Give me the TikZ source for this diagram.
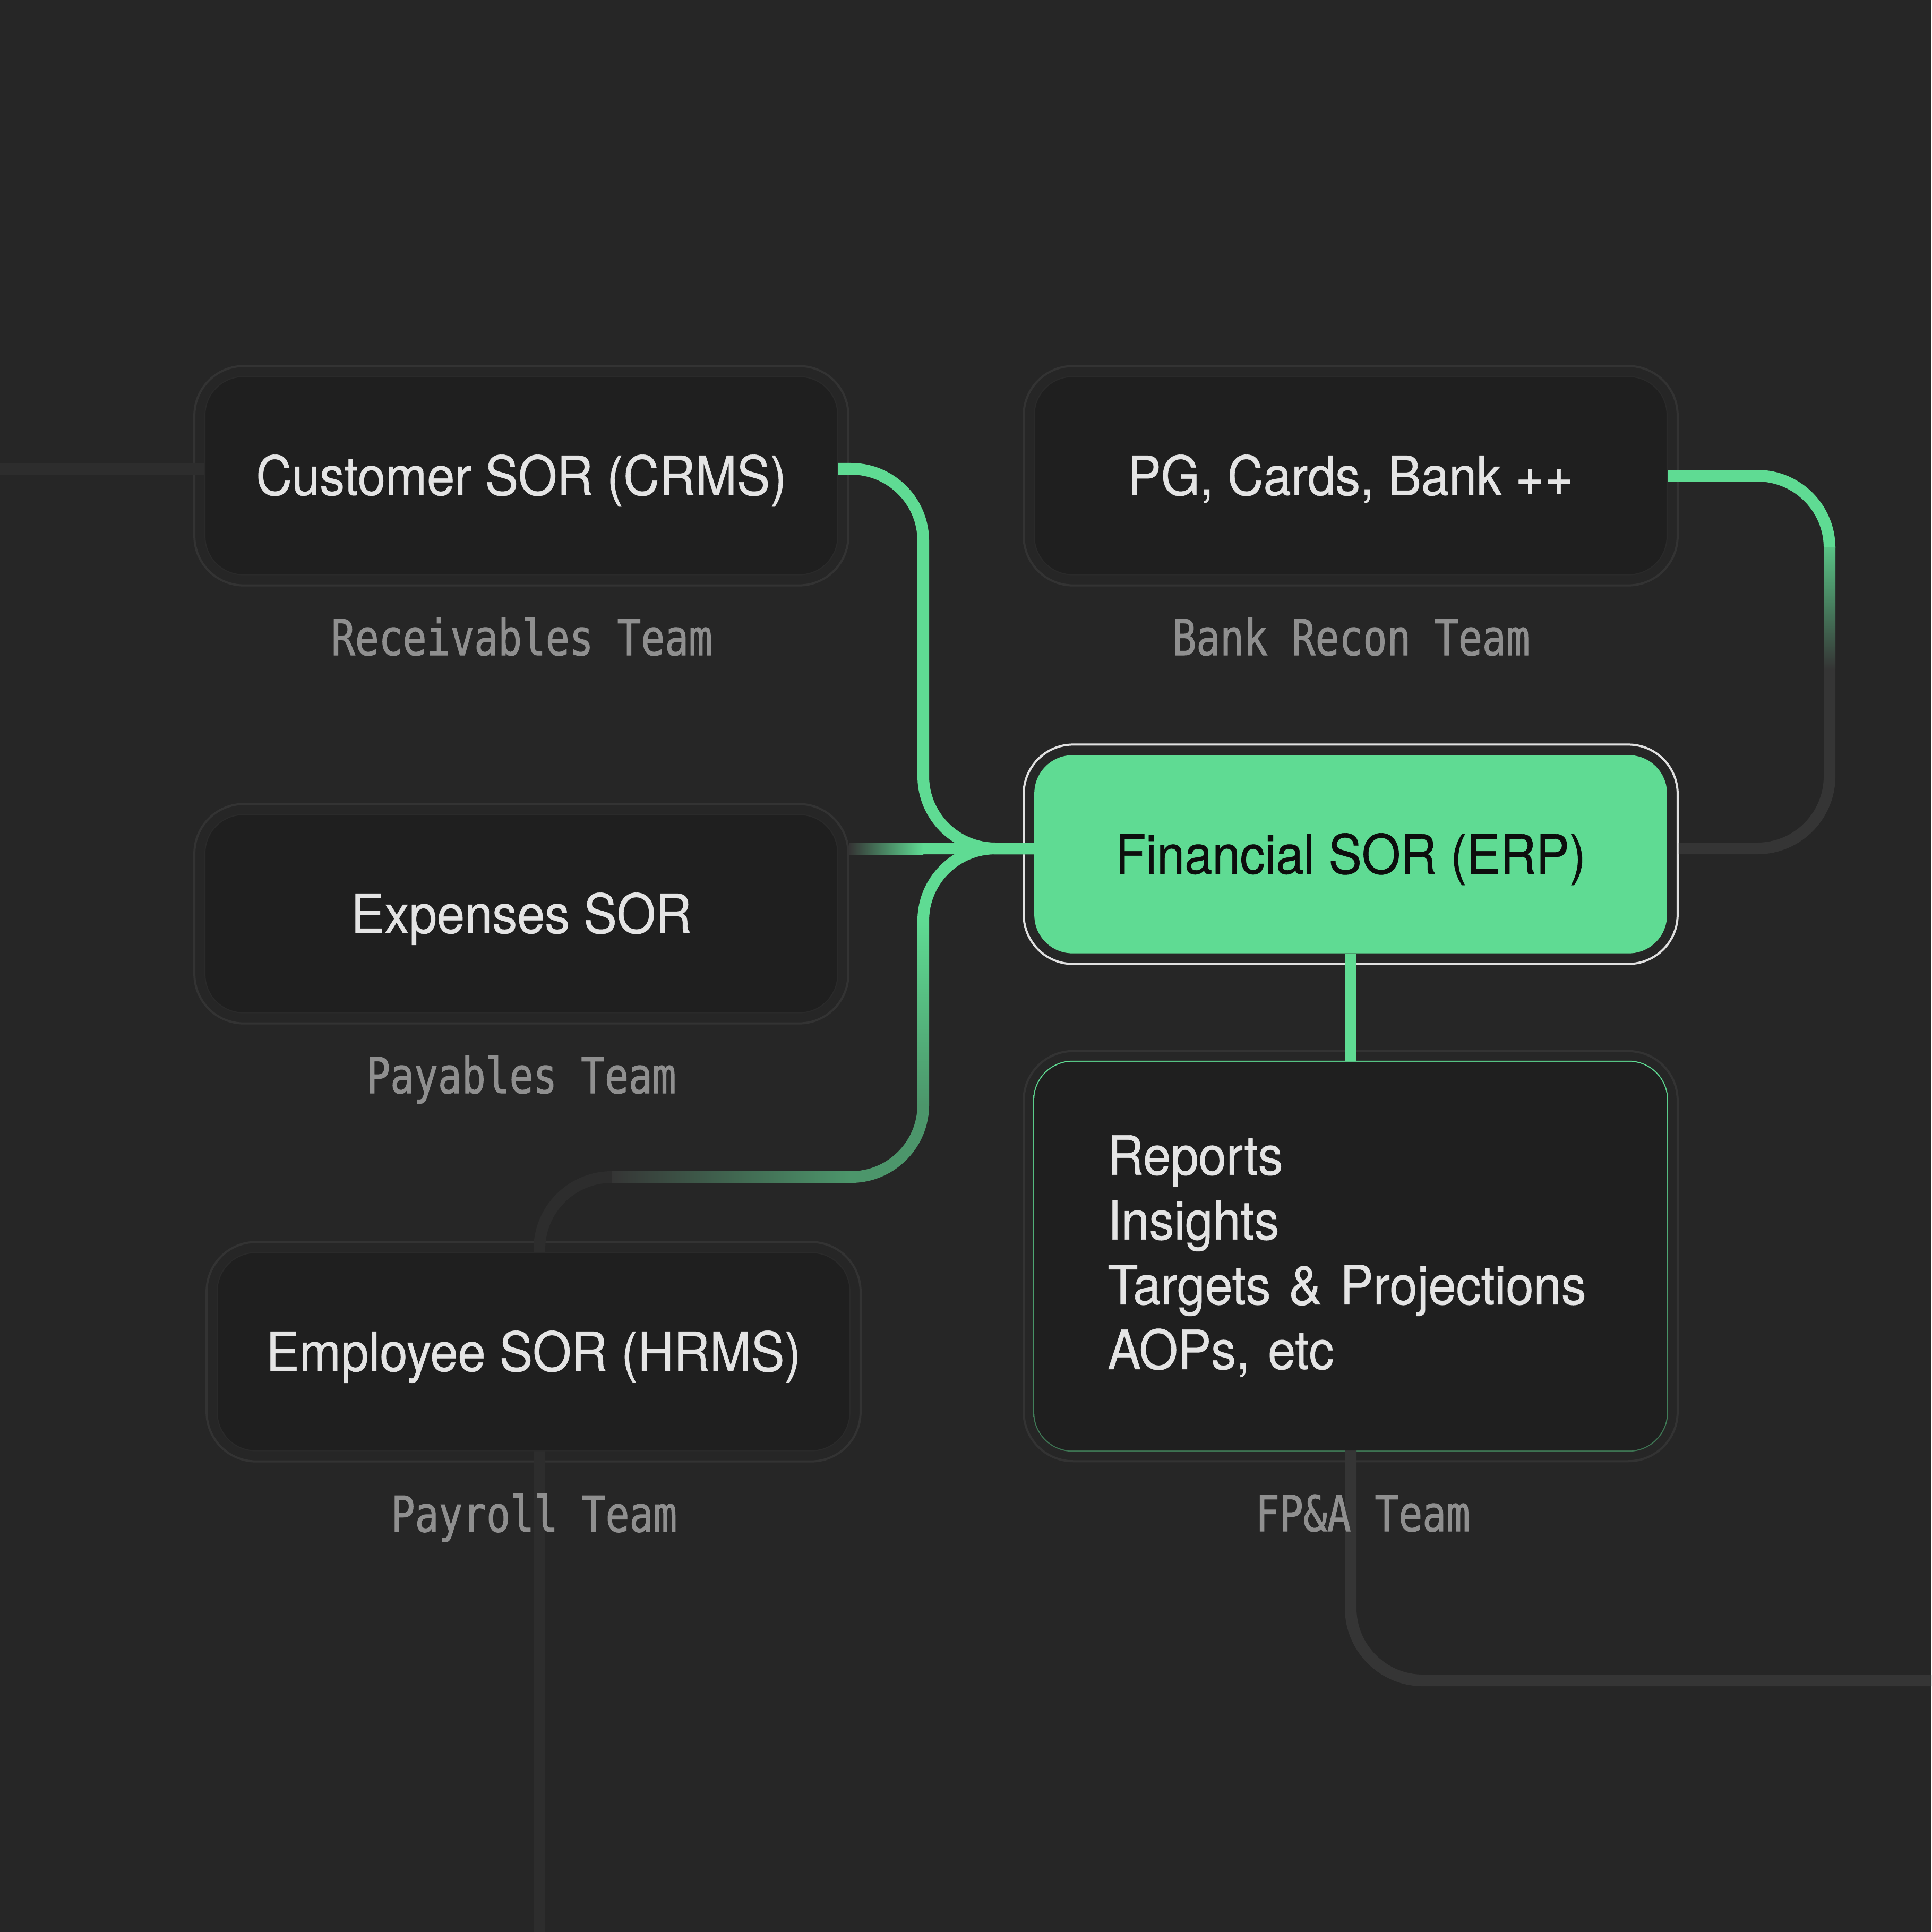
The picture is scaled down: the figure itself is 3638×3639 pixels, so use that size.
\documentclass[tikz,border=0pt]{standalone}
\usepackage{fontspec}
\setmainfont[FakeStretch=0.92, FakeBold=0.6]{TeX Gyre Heros}
\newfontfamily\teamfont[FakeStretch=0.8, FakeBold=1.2]{DejaVu Sans Mono}
\usepackage{tikz}
\usetikzlibrary{backgrounds,fit}

\definecolor{bgcol}{HTML}{262626}
\definecolor{boxcol}{HTML}{1F1F1F}
\definecolor{boxedge}{HTML}{2A2A2A}
\definecolor{framecol}{HTML}{333333}
\definecolor{wirecol}{HTML}{353535}
\definecolor{dimwire}{HTML}{2D2D2D}
\definecolor{erpgreen}{HTML}{5FDB93}
\definecolor{erptext}{HTML}{0D0D0D}
\definecolor{erpedge}{HTML}{E0E0E0}
\definecolor{textcol}{HTML}{E4E4E4}
\definecolor{teamcol}{HTML}{8F8F8F}
\definecolor{repedge}{HTML}{3D7352}
\definecolor{paygreen}{HTML}{4C966B}
\colorlet{pggreen}{erpgreen!85!wirecol}

\tikzset{
    sor/.style={rounded corners=0.72cm, fill=boxcol, draw=boxedge, line width=0.02cm,
        minimum width=11.91cm, minimum height=3.73cm, inner sep=0pt, outer sep=0pt,
        text=textcol, font=\fontsize{29}{35}\selectfont, text height=0.73cm, text depth=0pt},
    erp/.style={sor, fill=erpgreen, draw=none, text=erptext},
    outcome/.style={rounded corners=0.72cm, fill=boxcol, minimum width=11.91cm, minimum height=7.32cm,
        inner xsep=1.38cm, inner ysep=0pt, outer sep=0pt, text width=9.15cm, align=left,
        text=textcol, font=\fontsize{29}{34.7}\selectfont},
    sorframe/.style={rounded corners=0.93cm, draw=framecol, line width=0.04cm, inner sep=0.2cm},
    erpframe/.style={sorframe, draw=erpedge},
    team/.style={anchor=base, text=teamcol, font=\teamfont\fontsize{26.5}{30}\selectfont},
    wire/.style={line width=0.22cm},
    elbow/.style={wire, rounded corners=1.36cm}
}

\begin{document}
\begin{tikzpicture}[x=0.01cm, y=-0.01cm]
            \useasboundingbox (0,0) rectangle (3638,3639);

            \node[sor] (crm) at (982,896) {Customer SOR (CRMS)};
            \node[sor] (pg) at (2544,896) {PG, Cards, Bank ++};
            \node[sor] (exp) at (982,1721) {Expenses SOR};
            \node[erp] (fin) at (2544,1609) {Financial SOR (ERP)};
            \node[sor] (emp) at (1005,2546) {Employee SOR (HRMS)};
            \node[outcome] (rep) at (2544,2366) {Reports\\Insights\\Targets \& Projections\\AOPs, etc};

            \node[team] (crm-team) at (983,1234) {Receivables Team};
            \node[team] (pg-team) at (2545,1234) {Bank Recon Team};
            \node[team] (exp-team) at (982,2059) {Payables Team};
            \node[team] (emp-team) at (1006,2885) {Payroll Team};
            \node[team] (rep-team) at (2567,2884) {FP\&A Team};

            \begin{pgfonlayer}{background}
            \fill[bgcol] (0,0) rectangle (3638,3639);

            \node[sorframe, fit=(crm)] (crm-f) {};
            \node[sorframe, fit=(pg)] (pg-f) {};
            \node[sorframe, fit=(exp)] (exp-f) {};
            \node[sorframe, fit=(emp)] (emp-f) {};
            \node[sorframe, fit=(rep)] (rep-f) {};
            \node[erpframe, fit=(fin)] (fin-f) {};
            \shade[top color=erpgreen, bottom color=repedge, rounded corners=0.74cm]
                ([shift={(-0.02cm,0.02cm)}]rep.north west) rectangle ([shift={(0.02cm,-0.02cm)}]rep.south east);

            \coordinate (crm-in) at (0,883);
            \coordinate (hub) at (1739,1598);
            \coordinate (exp-out) at (1600,1598);
            \coordinate (pay-turn) at (1739,2217);
            \coordinate (pay-foot) at (1016,3639);
            \coordinate (pg-turn) at (3446,1598);
            \coordinate (fpa-out) at (3638,3165);

            \draw[wire, dimwire] (crm-in) -- ([yshift=0.13cm]crm.west);

            \draw[elbow, dimwire] ([yshift=0.11cm]fin.west) -| (pay-turn) -| (pay-foot);
            \draw[elbow, erpgreen] ([yshift=0.11cm]fin.west) -| (1739,1734);
            \shade[top color=erpgreen, bottom color=paygreen] (1728,1734) rectangle (1750,2081);
            \draw[elbow, paygreen] (1739,2081) |- (1603,2217);
            \shade[left color=wirecol, right color=paygreen] (1152,2206) rectangle (1603,2228);

            \shade[left color=wirecol, right color=erpgreen] ([yshift=0.11cm]exp-out) rectangle ([yshift=-0.11cm]hub);
            \draw[wire, erpgreen] (hub) -- ([yshift=0.11cm]fin.west);
            \draw[elbow, erpgreen] ([yshift=0.13cm]crm.east) -| (hub) -- ([yshift=0.11cm]fin.west);

            \draw[elbow, wirecol] (pg.east) -| (pg-turn) -- (fin-f.east |- pg-turn);
            \draw[elbow, erpgreen] (pg.east) -| (3446,1032);
            \shade[top color=pggreen, bottom color=wirecol] (3435,1031) rectangle (3457,1260);

            \draw[wire, erpgreen] (fin.south) -- (rep.north);
            \draw[elbow, wirecol] (rep.south) |- (fpa-out);
            \end{pgfonlayer}
        \end{tikzpicture}
\end{document}
